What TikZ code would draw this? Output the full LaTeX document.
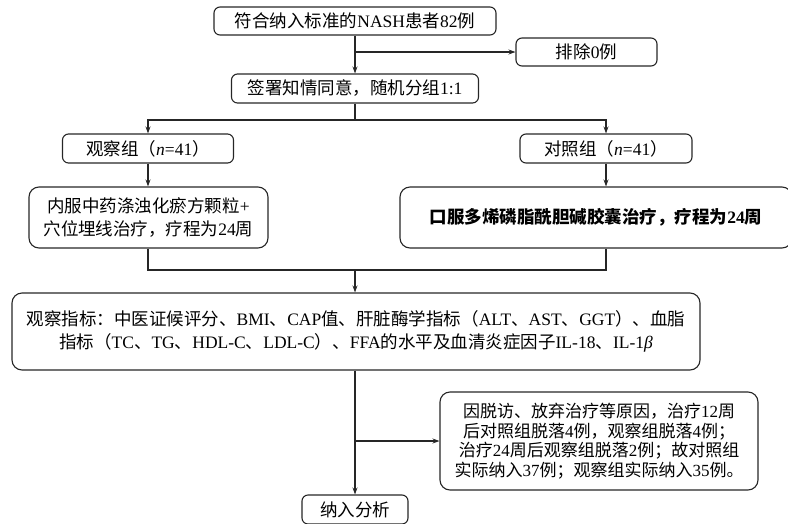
\documentclass[tikz,border=0pt]{standalone}
\usepackage{fontspec}
\setmainfont{Liberation Serif}
\newfontfamily\cjk{Noto Sans CJK SC}
\newcommand\C[1]{{\cjk #1}}
\usetikzlibrary{arrows.meta}
\begin{document}
\begin{tikzpicture}[x=1pt,y=-1pt,
  bx/.style n args={2}{draw=black!85, line width=1.1pt, rounded corners=6pt,
     minimum width=#1, minimum height=#2, inner sep=0pt, align=center,
     font=\fontsize{17.5pt}{23pt}\selectfont},
  bigbx/.style={rounded corners=10pt},
  ln/.style={draw=black!85, line width=1.1pt},
  arr/.style={ln, -{Stealth[length=7pt,width=5pt]}}]
\useasboundingbox (0,0) rectangle (788,523);
\clip (0,0) rectangle (788,523);

\node[bx={282pt}{28pt}] (n1) at (355,21) {\C{符合纳入标准的}NASH\C{患者}82\C{例}};
\node[bx={141pt}{28pt}] (ex) at (586.5,52) {\C{排除}0\C{例}};
\node[bx={247pt}{29pt}] (n2) at (355,88.5) {\C{签署知情同意，随机分组}1:1};
\node[bx={171pt}{29pt}] (obs) at (148,148.5) {\C{观察组（}\textit{n}=41\C{）}};
\node[bx={172pt}{29pt}] (ctl) at (606,148.5) {\C{对照组（}\textit{n}=41\C{）}};
\node[bx={239pt}{61pt}, bigbx] (ta) at (148.5,217.5) {\C{内服中药涤浊化瘀方颗粒}+\\\C{穴位埋线治疗，疗程为}24\C{周}};
\node[bx={392pt}{61pt}, bigbx, font=\fontsize{17.5pt}{23pt}\selectfont\bfseries] (tb) at (596,217.5) {\C{\bfseries 口服多烯磷脂酰胆碱胶囊治疗，疗程为}24\C{\bfseries 周}};
\node[bx={688pt}{77pt}, bigbx] (ind) at (356,331.5) {\C{观察指标：中医证候评分、}BMI\C{、}CAP\C{值、肝脏酶学指标（}ALT\C{、}AST\C{、}GGT\C{）、血脂}\\\C{指标（}TC\C{、}TG\C{、}HDL-C\C{、}LDL-C\C{）、}FFA\C{的水平及血清炎症因子}IL-18\C{、}IL-1\textit{β}};
\node[bx={318pt}{98pt}, bigbx, font=\fontsize{17pt}{19.5pt}\selectfont] (dr) at (599,441) {\C{因脱访、放弃治疗等原因，治疗}12\C{周}\\\C{后对照组脱落}4\C{例，观察组脱落}4\C{例；}\\\C{治疗}24\C{周后观察组脱落}2\C{例；故对照组}\\\C{实际纳入}37\C{例；观察组实际纳入}35\C{例。}};
\node[bx={106pt}{29pt}] (ana) at (355,509.5) {\C{纳入分析}};

% top spine
\draw[arr] (n1.south) -- (n2.north);
\coordinate (b1) at (n1.south |- ex.west);
\draw[arr] (b1) -- (ex.west);
% split
\coordinate (s0) at (355,120);
\draw[ln] (n2.south) -- (s0);
\draw[arr] (s0) -| (obs.north);
\draw[arr] (s0) -| (ctl.north);
\draw[arr] (obs.south) -- (obs.south |- ta.north);
\draw[arr] (ctl.south) -- (ctl.south |- tb.north);
% merge
\coordinate (m0) at (355,270);
\draw[ln] (obs.south |- ta.south) |- (m0);
\draw[ln] (ctl.south |- tb.south) |- (m0);
\draw[arr] (m0) -- (m0 |- ind.north);
% bottom spine
\draw[arr] (ana.north |- ind.south) -- (ana.north);
\coordinate (b2) at (ana.north |- dr.west);
\draw[arr] (b2) -- (dr.west);
\end{tikzpicture}
\end{document}
